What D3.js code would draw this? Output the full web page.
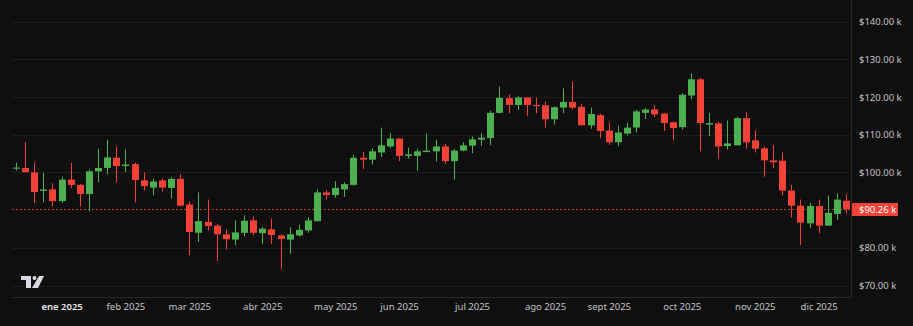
<!DOCTYPE html>
<html>
<head>
<meta charset="utf-8">
<script src="https://cdn.jsdelivr.net/npm/d3@7"></script>
<style>
  html, body { margin: 0; padding: 0; background: #0f0f0f; }
  svg { display: block; }
  .axis text { font-family: "Noto Sans", sans-serif; }
</style>
</head>
<body>
<svg></svg>
<script>
const width = 913
const height = 326
const plot = { left: 12, right: 851, top: 0, bottom: 297 }

// weekly-ish candles, values in $k
const opens  = [101.0,101.2,100.0,95.1,95.5,92.4,98.1,96.7,94.3,100.3,101.2,103.9,101.7,102.2,97.9,96.0,97.9,95.9,98.3,91.5,
  84.0,86.9,85.9,83.6,82.2,84.0,87.3,83.9,84.9,83.3,82.2,83.3,84.6,87.1,94.7,94.0,95.5,96.7,103.9,103.4,
  105.3,106.9,109.0,104.4,104.4,105.4,105.6,106.9,103.0,105.8,107.1,108.7,109.1,115.8,119.7,117.9,119.9,117.9,117.8,114.1,
  117.2,118.7,117.4,112.5,115.2,111.1,108.0,110.3,111.9,115.8,116.7,115.6,113.3,112.0,120.4,124.7,112.7,113.0,107.0,107.2,
  114.4,108.5,106.4,103.2,103.1,95.2,91.2,86.5,91.1,85.9,89.0,92.5]
const highs  = [102.6,108.0,102.7,99.9,97.1,98.9,102.5,97.0,100.7,106.3,108.7,106.9,106.1,102.6,100.0,98.3,98.4,98.7,99.5,92.3,
  94.7,92.8,86.4,84.9,87.3,88.6,88.3,85.5,87.8,83.6,85.5,86.2,88.1,95.5,95.3,97.7,97.4,104.7,105.5,106.4,
  111.9,110.4,109.0,106.6,106.3,110.3,108.7,107.6,106.2,108.0,109.5,110.4,116.4,122.8,120.7,120.2,119.9,119.8,118.8,117.5,
  122.3,124.1,118.2,117.2,115.6,113.3,112.4,113.2,116.6,117.1,117.8,115.8,113.4,121.0,126.2,125.1,115.8,113.5,113.8,114.8,
  116.0,111.1,106.9,107.2,105.3,96.7,92.8,91.9,92.8,93.9,94.5,94.2]
const lows   = [100.5,100.0,91.9,92.1,91.1,91.9,95.8,91.0,89.7,97.4,99.5,97.4,100.1,92.1,95.2,93.9,95.0,93.1,91.0,78.0,
  81.5,84.6,76.5,79.6,80.7,83.0,83.3,81.0,81.0,74.3,78.4,83.0,84.0,87.0,92.8,93.3,93.5,96.5,100.9,102.1,
  104.1,106.5,103.0,103.7,100.5,105.4,102.9,102.3,98.1,105.6,105.1,107.1,107.2,115.6,115.7,116.6,114.9,115.7,111.9,112.7,
  115.7,116.7,112.5,111.6,109.1,107.3,107.0,109.8,110.6,114.2,114.7,111.0,108.5,111.4,119.4,105.6,109.6,103.7,106.1,107.2,
  106.3,105.3,98.9,101.2,93.9,88.1,80.8,85.2,83.9,85.9,87.5,89.2]
const closes = [101.3,100.1,94.8,95.5,92.4,98.1,96.7,94.3,100.3,101.2,104.0,101.7,102.1,98.0,96.4,97.6,96.0,98.3,91.2,84.2,
  87.1,85.8,83.6,82.3,84.1,87.2,84.0,85.1,83.4,82.4,83.6,84.8,87.3,94.7,94.0,95.9,96.9,103.9,103.4,105.6,
  107.2,109.0,104.4,104.8,105.6,105.8,106.9,103.0,105.8,107.2,108.8,109.2,115.8,119.8,117.9,119.9,117.9,117.6,114.1,117.3,
  118.7,117.2,112.5,115.5,111.0,108.0,110.6,111.9,116.2,116.7,115.4,113.1,111.8,120.6,124.7,113.1,113.1,106.9,107.7,114.4,
  108.0,106.3,103.2,102.7,95.2,91.2,86.7,91.1,85.9,89.3,92.8,90.26]

const monthLabels = ["ene 2025","feb 2025","mar 2025","abr 2025","may 2025","jun 2025","jul 2025","ago 2025","sept 2025","oct 2025","nov 2025","dic 2025"]
const monthBars = [5, 12, 19, 27, 35, 42, 50, 58, 65, 73, 81, 88]
const priceTicks = [70, 80, 90, 100, 110, 120, 130, 140]
const lastPrice = 90.26

const upColor = "#4caf50"
const downColor = "#f44336"

const candles = opens.map((o, i) => ({ i, o, h: highs[i], l: lows[i], c: closes[i] }))

const x = d3.scaleLinear([0, candles.length - 1], [16, 846])
const y = d3.scaleLinear([70, 140], [285.6, 21.6])

const svg = d3.select("svg").attr("width", width).attr("height", height)

svg.append("rect").attr("width", width).attr("height", height).attr("fill", "#0f0f0f")

// horizontal grid
svg.append("g").selectAll("line")
  .data(priceTicks.filter(d => d != 90))
  .join("line")
  .attr("x1", plot.left).attr("x2", plot.right)
  .attr("y1", d => Math.round(y(d)) + 0.5).attr("y2", d => Math.round(y(d)) + 0.5)
  .attr("stroke", "#1d1d1d")

// frame (bottom + right)
svg.append("line").attr("x1", plot.left).attr("x2", plot.right + 0.5)
  .attr("y1", plot.bottom + 0.5).attr("y2", plot.bottom + 0.5).attr("stroke", "#2a2a2a")
svg.append("line").attr("x1", plot.right + 0.5).attr("x2", plot.right + 0.5)
  .attr("y1", 0).attr("y2", plot.bottom + 0.5).attr("stroke", "#2a2a2a")

// last price line
svg.append("line")
  .attr("x1", plot.left).attr("x2", plot.right)
  .attr("y1", Math.round(y(lastPrice)) + 0.5).attr("y2", Math.round(y(lastPrice)) + 0.5)
  .attr("stroke", downColor).attr("stroke-dasharray", "2,2").attr("opacity", 0.8)

// candles
let g = svg.append("g")
g.selectAll("line.wick")
  .data(candles)
  .join("line")
  .classed("wick", true)
  .attr("x1", d => Math.round(x(d.i)) + 0.5).attr("x2", d => Math.round(x(d.i)) + 0.5)
  .attr("y1", d => y(d.h)).attr("y2", d => y(d.l))
  .attr("stroke", d => d.c >= d.o ? upColor : downColor)

g.selectAll("rect.body")
  .data(candles)
  .join("rect")
  .classed("body", true)
  .attr("x", d => Math.round(x(d.i)) - 3)
  .attr("width", 7)
  .attr("y", d => y(Math.max(d.o, d.c)))
  .attr("height", d => Math.max(1, Math.abs(y(d.o) - y(d.c))))
  .attr("fill", d => d.c >= d.o ? upColor : downColor)

// price axis
let yAxis = svg.append("g")
  .classed("axis", true)
  .attr("transform", `translate(${plot.right + 2},0)`)
  .call(d3.axisRight(y).tickValues(priceTicks.filter(d => d != 90)).tickSize(0).tickPadding(6)
    .tickFormat(d => "$" + d3.format(".2f")(d) + " k"))
yAxis.select(".domain").remove()
yAxis.selectAll("text").attr("fill", "#c4c4c4").style("font-size", "9.5px")

// last price label
let ly = Math.round(y(lastPrice))
svg.append("rect").attr("x", plot.right + 1).attr("y", ly - 6).attr("width", 46).attr("height", 13)
  .attr("fill", downColor)
svg.append("text").attr("x", plot.right + 8).attr("y", ly + 0.5)
  .attr("dy", "0.32em")
  .style("font-family", "'Noto Sans', sans-serif").style("font-size", "9.5px")
  .attr("fill", "white")
  .text("$" + d3.format(".2f")(lastPrice) + " k")

// time axis
let xAxis = svg.append("g")
  .classed("axis", true)
  .attr("transform", `translate(0,${plot.bottom + 6})`)
  .call(d3.axisBottom(x).tickValues(monthBars).tickSize(0).tickPadding(0)
    .tickFormat((d, i) => monthLabels[i]))
xAxis.select(".domain").remove()
xAxis.selectAll("text").attr("fill", "#c4c4c4").style("font-size", "9.5px")
  .attr("font-weight", (d, i) => i == 0 ? 600 : 400)
  .attr("fill", (d, i) => i == 0 ? "#e8e8e8" : "#c4c4c4")

// logo
let logo = svg.append("g").attr("transform", "translate(21,276)").attr("fill", "#d8d8e0")
logo.append("path").attr("d", "M0,0 H10 V12 H5 V4 H0 Z")
logo.append("circle").attr("cx", 13.5).attr("cy", 2).attr("r", 2)
logo.append("path").attr("d", "M18,0 H23 L17,12 H11 Z")
</script>
</body>
</html>
